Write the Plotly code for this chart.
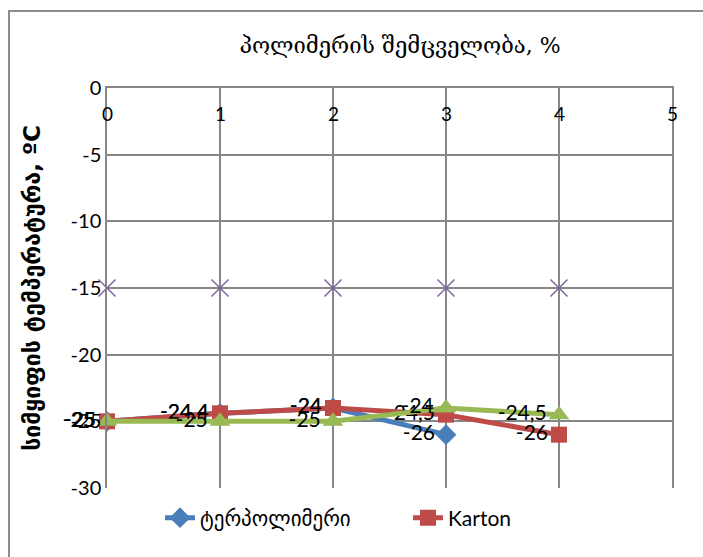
import plotly.graph_objects as go

# polymer content, %
x_vals = [0, 1, 2, 3, 4]

terpolymer = [-25, -24.4, -24, -26]
karton = [-25, -24.4, -24, -24.5, -26]
series3 = [-25, -25, -25, -24, -24.5]
series4 = [-15, -15, -15, -15, -15]

names = ["ტერპოლიმერი", "Karton"]
title_text = "პოლიმერის შემცველობა, %"
ytitle_text = "სიმყიფის ტემპერატურა, ºC"

x_ticks = [0, 1, 2, 3, 4, 5]
y_ticks = [0, -5, -10, -15, -20, -25, -30]

W, H = 703, 557
L, R, T, B = 107, 31, 88, 69

grid = "#868686"
label_font = dict(family="Lato, 'Liberation Sans', sans-serif", size=21, color="black")


def fmt(vals):
    return [f"{v:g}".replace(".", ",") for v in vals]


fig = go.Figure()

fig.add_trace(go.Scatter(
    x=x_vals[:len(series4)], y=series4, mode="markers", name="series4",
    marker=dict(symbol="x-thin", size=17, line=dict(color="#8064A2", width=1.5)),
    showlegend=False, cliponaxis=False,
))
fig.add_trace(go.Scatter(
    x=x_vals[:len(terpolymer)], y=terpolymer, mode="lines+markers+text", name=names[0],
    line=dict(color="#4A7EBB", width=5),
    marker=dict(symbol="diamond", size=16, color="#4A7EBB"),
    text=fmt(terpolymer), textposition="middle left", textfont=label_font,
    cliponaxis=False,
))
fig.add_trace(go.Scatter(
    x=x_vals[:len(karton)], y=karton, mode="lines+markers+text", name=names[1],
    line=dict(color="#BE4B48", width=5),
    marker=dict(symbol="square", size=16, color="#BE4B48"),
    text=fmt(karton), textposition="middle left", textfont=label_font,
    cliponaxis=False,
))
fig.add_trace(go.Scatter(
    x=x_vals[:len(series3)], y=series3, mode="lines+markers+text", name="series3",
    line=dict(color="#98B954", width=5),
    marker=dict(symbol="triangle-up", size=18, color="#98B954"),
    text=fmt(series3), textposition="middle left", textfont=label_font,
    showlegend=False, cliponaxis=False,
))

# x tick labels sit just below the top axis line
annotations = [
    dict(x=t, y=0, xref="x", yref="y", text=str(t), showarrow=False,
         yanchor="top", yshift=-12, font=dict(size=19, color="black"))
    for t in x_ticks
]

fig.update_layout(
    width=W, height=H,
    margin=dict(l=L, r=R, t=T, b=B, autoexpand=False),
    paper_bgcolor="white", plot_bgcolor="white",
    font=dict(family="Lato, 'DejaVu Sans', sans-serif", size=18, color="black"),
    title=dict(
        text=title_text, x=400 / W, xanchor="center", y=1 - 45 / H, yanchor="middle",
        font=dict(family="'DejaVu Serif', 'DejaVu Sans', serif", size=22, color="black"),
    ),
    xaxis=dict(
        range=[0, 5], tickvals=x_ticks, showticklabels=False, ticks="",
        side="top", showgrid=True, gridcolor=grid, gridwidth=1.5,
        showline=True, linecolor=grid, linewidth=2, zeroline=False,
    ),
    yaxis=dict(
        range=[-30, 0], tickvals=y_ticks, ticktext=[str(t) for t in y_ticks],
        showgrid=True, gridcolor=grid, gridwidth=1.5,
        showline=True, linecolor=grid, linewidth=1.5, mirror=True,
        zeroline=False, ticks="", ticklen=0, tickfont=dict(size=20),
        title=dict(text="<b>" + ytitle_text + "</b>", standoff=24,
                   font=dict(family="'DejaVu Sans', sans-serif", size=23, color="black")),
    ),
    legend=dict(
        orientation="h", x=(160 - L) / (W - L - R), xanchor="left",
        y=-(518 - (H - B)) / (H - T - B), yanchor="middle",
        font=dict(size=21), entrywidth=203, entrywidthmode="pixels",
        bgcolor="rgba(0,0,0,0)",
    ),
    annotations=annotations,
    shapes=[dict(
        type="rect", xref="paper", yref="paper", layer="below",
        x0=(9 - L) / (W - L - R), x1=1.2,
        y0=-0.3, y1=1 + (T - 11) / (H - T - B),
        line=dict(color="#8c8c8c", width=2),
    )],
)

fig.write_html("out.html")
